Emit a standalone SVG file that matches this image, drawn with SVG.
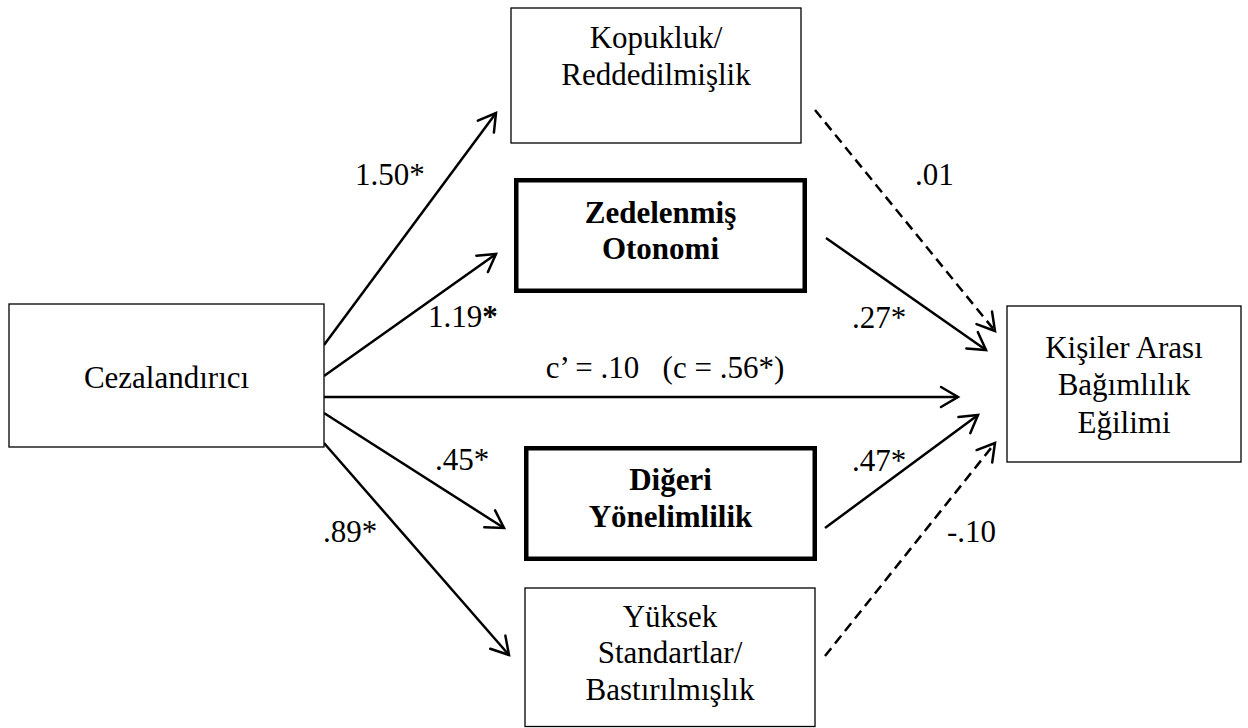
<svg xmlns="http://www.w3.org/2000/svg" width="1248" height="728" viewBox="0 0 1248 728">
<style>
  text { font-family: "Liberation Serif", "Times New Roman", serif; font-size: 31px; fill: #000; }
  .c { text-anchor: middle; }
  .b { font-weight: bold; }
  .thin { fill: #fff; stroke: #000; stroke-width: 1.3; }
  .thick { fill: #fff; stroke: #000; stroke-width: 4.5; }
  .ln { fill: none; stroke: #000; stroke-width: 2.5; marker-end: url(#ah); }
  .dash { stroke-dasharray: 10 6; }
</style>
<defs>
  <marker id="ah" markerUnits="userSpaceOnUse" markerWidth="40" markerHeight="40" viewBox="-20 -20 40 40" refX="0" refY="0" orient="auto" overflow="visible">
    <path d="M-17,-10 L0,0 L-17,10" fill="none" stroke="#000" stroke-width="2.5" stroke-linecap="round" stroke-linejoin="miter"/>
  </marker>
</defs>
<rect width="1248" height="728" fill="#fff"/>

<g id="connectors">
  <line class="ln" x1="324" y1="345" x2="496" y2="113"/>
  <line class="ln" x1="324" y1="376" x2="496" y2="254"/>
  <line class="ln" x1="324" y1="397" x2="958" y2="397"/>
  <line class="ln" x1="324" y1="413" x2="504" y2="528"/>
  <line class="ln" x1="324" y1="443" x2="509" y2="655"/>
  <line class="ln dash" x1="815" y1="110" x2="995" y2="331"/>
  <line class="ln" x1="826" y1="238" x2="986" y2="350"/>
  <line class="ln" x1="825" y1="528" x2="978" y2="415"/>
  <line class="ln dash" x1="825" y1="656" x2="995" y2="443"/>
</g>

<g id="labels">
  <text x="355" y="185">1.50*</text>
  <text x="428" y="327">1.19<tspan class="b">*</tspan></text>
  <text class="c" x="665" y="378" xml:space="preserve">c’ = .10   (c = .56*)</text>
  <text x="435" y="470">.45*</text>
  <text x="323" y="542">.89*</text>
  <text x="915" y="185">.01</text>
  <text x="852" y="328">.27*</text>
  <text x="852" y="471">.47*</text>
  <text x="947" y="542">-.10</text>
</g>

<g id="node-cezalandirici">
  <rect class="thin" x="9" y="304" width="315" height="143"/>
  <text class="c" x="166.5" y="388">Cezalandırıcı</text>
</g>

<g id="node-kopukluk">
  <rect class="thin" x="511" y="8" width="290" height="135"/>
  <text class="c" x="656" y="48">Kopukluk/</text>
  <text class="c" x="656" y="85">Reddedilmişlik</text>
</g>

<g id="node-zedelenmis">
  <rect class="thick" x="516.25" y="180.25" width="288.5" height="110.5"/>
  <text class="c b" x="660.5" y="223">Zedelenmiş</text>
  <text class="c b" x="660.5" y="259">Otonomi</text>
</g>

<g id="node-digeri">
  <rect class="thick" x="526.25" y="448.25" width="288.5" height="110.5"/>
  <text class="c b" x="670.5" y="490">Diğeri</text>
  <text class="c b" x="670.5" y="527">Yönelimlilik</text>
</g>

<g id="node-yuksek">
  <rect class="thin" x="525" y="588" width="290" height="138.5"/>
  <text class="c" x="670" y="627">Yüksek</text>
  <text class="c" x="670" y="663">Standartlar/</text>
  <text class="c" x="670" y="700">Bastırılmışlık</text>
</g>

<g id="node-kisiler">
  <rect class="thin" x="1007" y="306" width="234" height="156"/>
  <text class="c" x="1124" y="358">Kişiler Arası</text>
  <text class="c" x="1124" y="395">Bağımlılık</text>
  <text class="c" x="1124" y="433">Eğilimi</text>
</g>
</svg>
